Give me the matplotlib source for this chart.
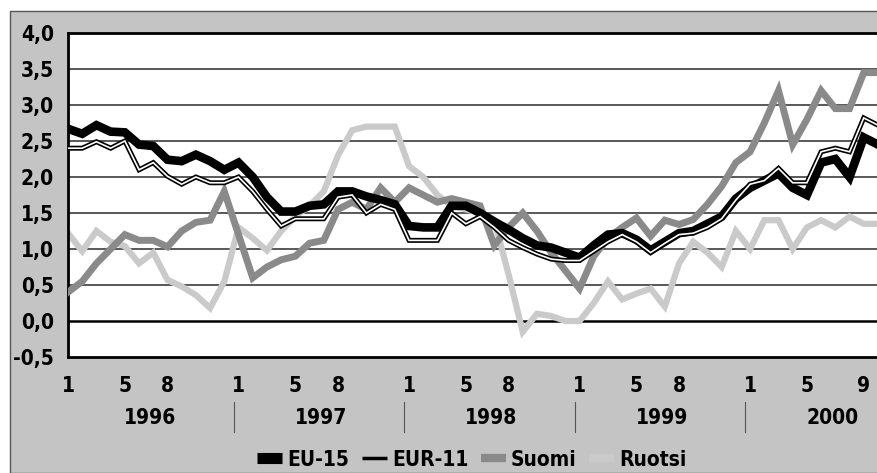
import numpy as np
import matplotlib
matplotlib.use("Agg")
import matplotlib.pyplot as plt
from matplotlib.lines import Line2D
import matplotlib.transforms as mtransforms
import matplotlib.patheffects as pe

plt.rcParams['font.family'] = ['Liberation Sans Narrow', 'DejaVu Sans']
plt.rcParams['font.weight'] = 'bold'
plt.rcParams['font.stretch'] = 'condensed'

# kuukaudet tammikuu 1996 - lokakuu 2000 (indeksi 0 = 1/1996)
months = np.arange(58)

eu15 = [2.67, 2.60, 2.72, 2.63, 2.62, 2.45, 2.43, 2.24, 2.22, 2.31, 2.22, 2.10,
        2.20, 2.00, 1.72, 1.52, 1.52, 1.60, 1.62, 1.80, 1.80, 1.73, 1.68, 1.62,
        1.32, 1.30, 1.30, 1.60, 1.60, 1.50, 1.38, 1.27, 1.15, 1.05, 1.02, 0.95,
        0.88, 1.05, 1.20, 1.22, 1.13, 0.98, 1.10, 1.22, 1.25, 1.35, 1.45, 1.70,
        1.85, 1.95, 2.05, 1.85, 1.75, 2.20, 2.25, 2.00, 2.55, 2.45]

eur11 = [2.40, 2.40, 2.49, 2.40, 2.50, 2.10, 2.20, 2.01, 1.90, 2.00, 1.92, 1.92,
         2.00, 1.80, 1.55, 1.32, 1.42, 1.42, 1.42, 1.72, 1.75, 1.50, 1.62, 1.55,
         1.12, 1.12, 1.12, 1.50, 1.35, 1.45, 1.30, 1.12, 1.02, 0.93, 0.86, 0.84,
         0.84, 0.97, 1.10, 1.20, 1.10, 0.95, 1.08, 1.20, 1.22, 1.30, 1.42, 1.68,
         1.90, 1.95, 2.12, 1.92, 1.92, 2.35, 2.40, 2.35, 2.82, 2.72]

suomi = [0.40, 0.55, 0.80, 1.00, 1.20, 1.12, 1.12, 1.03, 1.25, 1.37, 1.40, 1.80,
         1.20, 0.60, 0.75, 0.85, 0.90, 1.08, 1.12, 1.55, 1.65, 1.55, 1.85, 1.65,
         1.85, 1.75, 1.65, 1.70, 1.65, 1.60, 1.05, 1.30, 1.50, 1.25, 0.95, 0.70,
         0.45, 0.90, 1.15, 1.30, 1.43, 1.18, 1.40, 1.34, 1.41, 1.62, 1.87, 2.20,
         2.35, 2.75, 3.20, 2.45, 2.80, 3.20, 2.95, 2.95, 3.45, 3.45]

ruotsi = [1.22, 0.97, 1.25, 1.10, 1.04, 0.80, 0.95, 0.57, 0.48, 0.36, 0.18, 0.55,
          1.30, 1.15, 0.98, 1.25, 1.45, 1.60, 1.80, 2.30, 2.65, 2.70, 2.70, 2.70,
          2.15, 2.00, 1.75, 1.60, 1.55, 1.50, 1.40, 0.65, -0.15, 0.10, 0.07, 0.00,
          0.00, 0.25, 0.55, 0.30, 0.38, 0.45, 0.20, 0.80, 1.10, 0.95, 0.75, 1.25,
          1.00, 1.40, 1.40, 1.00, 1.30, 1.40, 1.30, 1.45, 1.35, 1.35]

years = ['1996', '1997', '1998', '1999', '2000']
tick_months = [0, 4, 7, 12, 16, 19, 24, 28, 31, 36, 40, 43, 48, 52, 56]
tick_labels = ['1', '5', '8', '1', '5', '8', '1', '5', '8', '1', '5', '8', '1', '5', '9']

panel = '#c4c4c4'
c_suomi = '#8a8a8a'
c_ruotsi = '#cacaca'
fs = 15

fig = plt.figure(figsize=(8.77, 4.73), dpi=100)
fig.patch.set_facecolor('white')
# harmaa tausta
fig.patches.append(plt.Rectangle((10 / 877, 0), 1, 1 - 11 / 473, transform=fig.transFigure,
                                 facecolor=panel, edgecolor='#555555', linewidth=1.0, zorder=-5))

ax = fig.add_axes([68 / 877, 1 - 357 / 473, 1 - 68 / 877, 324 / 473])
ax.set_zorder(1)
ax.set_facecolor('white')

ax.set_ylim(-0.5, 4.0)
ax.set_xlim(0, (877 - 68) / 14.21)
yt = np.arange(-0.5, 4.01, 0.5)
ax.set_yticks(yt)
ax.set_yticklabels([('%.1f' % v).replace('.', ',') for v in yt], fontsize=fs)
for v in yt[1:-1]:
    ax.axhline(v, color='black' if v == 0 else '#3c3c3c', lw=1.8 if v == 0 else 1.2, zorder=1)

ax.set_xticks(tick_months)
ax.set_xticklabels(tick_labels, fontsize=fs)
ax.tick_params(length=0, pad=14)
ax.tick_params(axis='y', pad=10)
for s in ax.spines.values():
    s.set_linewidth(2)
ax.spines['right'].set_visible(False)

ax.plot(months, ruotsi, color=c_ruotsi, lw=4.5, zorder=2, solid_joinstyle='miter')
ax.plot(months, suomi, color=c_suomi, lw=5, zorder=3, solid_joinstyle='miter')
ax.plot(months, eu15, color='black', lw=6.2, zorder=4, solid_joinstyle='miter')
ax.plot(months, eur11, color='black', lw=3.6, zorder=5, solid_joinstyle='miter',
        path_effects=[pe.Stroke(linewidth=3.6, foreground='black'),
                      pe.Stroke(linewidth=1.2, foreground='white')])

trans = mtransforms.blended_transform_factory(ax.transData, ax.transAxes)
for i, y in enumerate(years):
    ax.text(i * 12 + 5.8, -0.188, y, transform=trans, ha='center', va='center',
            fontsize=fs, clip_on=False)
    if i > 0:
        ax.plot([i * 12 - 0.35] * 2, [-0.139, -0.231], transform=trans, color='#555555',
                lw=0.8, clip_on=False)

handles = [Line2D([], [], color='black', lw=8, solid_capstyle='butt'),
           Line2D([], [], color='black', lw=2.5, solid_capstyle='butt'),
           Line2D([], [], color=c_suomi, lw=6, solid_capstyle='butt'),
           Line2D([], [], color=c_ruotsi, lw=6, solid_capstyle='butt')]
fig.legend(handles, ['EU-15', 'EUR-11', 'Suomi', 'Ruotsi'], loc='center',
           bbox_to_anchor=(0.538, 0.028), ncol=4, frameon=False, fontsize=fs,
           handlelength=1.2, handletextpad=0.25, columnspacing=0.6)

fig.savefig('out.png', dpi=100)
